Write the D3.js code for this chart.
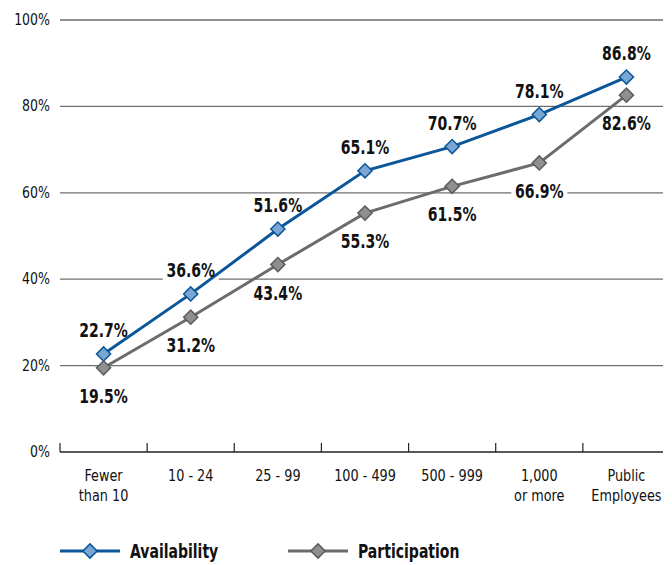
<!DOCTYPE html>
<html>
<head>
<meta charset="utf-8">
<script src="https://cdn.jsdelivr.net/npm/d3@7"></script>
<style>
  body { margin: 0; background: #fff; }
  text { font-family: "Liberation Sans Narrow", "DejaVu Sans Condensed", sans-serif; }
</style>
</head>
<body>
<script>
// data
const categories = ['Fewer\nthan 10', '10 - 24', '25 - 99', '100 - 499', '500 - 999', '1,000\nor more', 'Public\nEmployees'];
const availability = [22.7, 36.6, 51.6, 65.1, 70.7, 78.1, 86.8];
const participation = [19.5, 31.2, 43.4, 55.3, 61.5, 66.9, 82.6];
const yTicks = [0, 20, 40, 60, 80, 100];

const width = 672;
const height = 565;
const plotLeft = 60, plotRight = 663;
const squeeze = 0.8; // fake a condensed bold face

const svg = d3.select('body').append('svg')
  .attr('width', width)
  .attr('height', height);

// layers: grid, label backgrounds (knock out gridlines), lines, labels
const gridLayer = svg.append('g');
const bgLayer = svg.append('g');
const lineLayer = svg.append('g');
const textLayer = svg.append('g');

//Scales
const x = d3.scaleBand()
  .domain(categories)
  .range([60, 670]);

const y = d3.scaleLinear()
  .domain([0, 100])
  .range([452, 20]);

// gridlines
gridLayer.selectAll('line')
  .data(yTicks.filter(d => d > 0))
  .enter().append('line')
  .attr('x1', plotLeft).attr('x2', plotRight)
  .attr('y1', d => y(d)).attr('y2', d => y(d))
  .attr('stroke', d => d === 100 ? '#222' : '#6f6f6f')
  .attr('stroke-width', 1.2);

// y labels
gridLayer.append('g').selectAll('text')
  .data(yTicks)
  .enter().append('text')
  .attr('transform', d => `translate(50,${y(d) + 5}) scale(0.9,1)`)
  .attr('text-anchor', 'end')
  .attr('font-size', '15.5px')
  .attr('fill', '#111')
  .text(d => d + '%');

// x axis
const xAxisG = gridLayer.append('g');
xAxisG.append('line')
  .attr('x1', plotLeft).attr('x2', plotRight)
  .attr('y1', y(0)).attr('y2', y(0))
  .attr('stroke', '#222').attr('stroke-width', 1.5);
xAxisG.selectAll('.tick')
  .data(categories)
  .enter().append('line')
  .attr('x1', d => x(d)).attr('x2', d => x(d))
  .attr('y1', y(0) - 9).attr('y2', y(0))
  .attr('stroke', '#222').attr('stroke-width', 1.2);

xAxisG.selectAll('.lbl')
  .data(categories)
  .enter().append('text')
  .attr('transform', d => `translate(${x(d) + x.bandwidth() / 2},0) scale(0.92,1)`)
  .attr('text-anchor', 'middle')
  .attr('font-size', '15.5px')
  .attr('fill', '#111')
  .each(function(d) {
    const lines = d.split('\n');
    d3.select(this).selectAll('tspan')
      .data(lines)
      .enter().append('tspan')
      .attr('x', 0)
      .attr('y', (t, i) => 481 + i * 20)
      .text(t => t);
  });

const cx = d => x(d) + x.bandwidth() / 2;
const diamond = d3.symbol().type(d3.symbolSquare).size(100);

const series = [
  {name: 'Availability', values: availability, line: '#0b5699', fill: '#7aa6d3', stroke: '#0b5699', dy: -24, legendX: 60},
  {name: 'Participation', values: participation, line: '#6b6c6e', fill: '#8e8f91', stroke: '#5c5d5f', dy: 28, legendX: 288}
];

series.forEach(s => {
  const pts = categories.map((c, i) => ({c: c, v: s.values[i]}));
  const lineGen = d3.line().x(d => cx(d.c)).y(d => y(d.v));

  lineLayer.append('path')
    .datum(pts)
    .attr('d', lineGen)
    .attr('fill', 'none')
    .attr('stroke', s.line)
    .attr('stroke-width', 3);

  lineLayer.append('g').selectAll('path')
    .data(pts)
    .enter().append('path')
    .attr('d', diamond)
    .attr('transform', d => `translate(${cx(d.c)},${y(d.v)}) rotate(45)`)
    .attr('fill', s.fill)
    .attr('stroke', s.stroke)
    .attr('stroke-width', 1.5);

  // white boxes behind value labels
  bgLayer.append('g').selectAll('rect')
    .data(pts)
    .enter().append('rect')
    .attr('x', d => cx(d.c) - 28)
    .attr('y', d => y(d.v) + s.dy - 11)
    .attr('width', 56).attr('height', 22)
    .attr('fill', '#fff');

  textLayer.append('g').selectAll('text')
    .data(pts)
    .enter().append('text')
    .attr('transform', d => `translate(${cx(d.c)},${y(d.v) + s.dy + 7}) scale(${squeeze},1)`)
    .attr('text-anchor', 'middle')
    .attr('font-size', '19.5px')
    .attr('font-weight', 'bold')
    .attr('fill', '#111')
    .text(d => d.v.toFixed(1) + '%');

  // legend
  const lg = svg.append('g').attr('transform', `translate(${s.legendX},551)`);
  lg.append('line')
    .attr('x1', 0).attr('x2', 60)
    .attr('stroke', s.line).attr('stroke-width', 3);
  lg.append('path')
    .attr('d', diamond)
    .attr('transform', 'translate(30,0) rotate(45)')
    .attr('fill', s.fill)
    .attr('stroke', s.stroke)
    .attr('stroke-width', 1.5);
  lg.append('text')
    .attr('transform', `translate(70,7) scale(${squeeze},1)`)
    .attr('font-size', '19.5px')
    .attr('font-weight', 'bold')
    .attr('fill', '#111')
    .text(s.name);
});
</script>
</body>
</html>
